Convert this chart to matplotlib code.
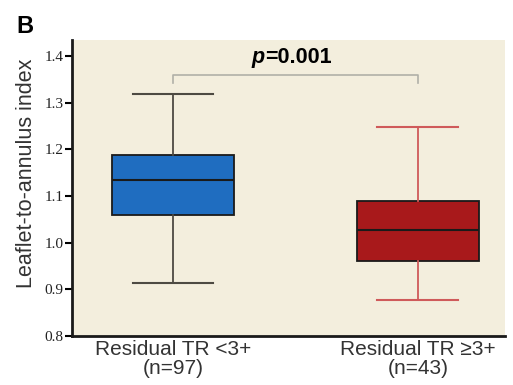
import matplotlib
matplotlib.use("Agg")
import matplotlib.pyplot as plt

categories = ["Residual TR <3+\n(n=97)", "Residual TR \u22653+\n(n=43)"]
whislo = [0.914, 0.877]
q1 = [1.060, 0.961]
med = [1.135, 1.028]
q3 = [1.187, 1.090]
whishi = [1.318, 1.247]
box_colors = ["#1f6dc0", "#a8191b"]
whisker_colors = ["#4d4a42", "#cf5a5a"]
yticks = [0.8, 0.9, 1.0, 1.1, 1.2, 1.3, 1.4]
p_text = "p"
p_value = "=0.001"

fig = plt.figure(figsize=(5.13, 3.85), dpi=100)
ax = fig.add_axes([0.1404, 0.127, 0.8436, 0.769])
ax.set_facecolor("#f3eedd")

stats = []
for i in range(len(categories)):
    stats.append(dict(whislo=whislo[i], q1=q1[i], med=med[i], q3=q3[i],
                      whishi=whishi[i], fliers=[], label=categories[i]))

positions = [1, 2]
bp = ax.bxp(stats, positions=positions, widths=0.5, patch_artist=True,
            showfliers=False)
for i, box in enumerate(bp["boxes"]):
    box.set_facecolor(box_colors[i])
    box.set_edgecolor("#1a1a1a")
    box.set_linewidth(1.3)
for i, m in enumerate(bp["medians"]):
    m.set_color("#1a1a1a")
    m.set_linewidth(1.5)
for i in range(len(categories)):
    for w in bp["whiskers"][2 * i:2 * i + 2]:
        w.set_color(whisker_colors[i])
        w.set_linewidth(1.3)
    for c in bp["caps"][2 * i:2 * i + 2]:
        c.set_color(whisker_colors[i])
        c.set_linewidth(1.5)
        xd = c.get_xdata()
        cx = (xd[0] + xd[1]) / 2
        c.set_xdata([cx - 0.165, cx + 0.165])

ax.set_xlim(0.588, 2.355)
ax.set_ylim(0.8, 1.434)
ax.set_yticks(yticks)
ax.set_yticklabels([f"{v:.1f}" for v in yticks], family="Liberation Serif",
                   fontsize=11, color="#222222")
ax.tick_params(axis="y", direction="out", length=5, width=1.5, pad=1)
ax.tick_params(axis="x", length=0, pad=3, labelsize=15, labelcolor="#333333")
for lab in ax.get_xticklabels():
    lab.set_family("Liberation Sans")
    lab.set_linespacing(0.95)

for s in ["top", "right"]:
    ax.spines[s].set_visible(False)
for s in ["left", "bottom"]:
    ax.spines[s].set_linewidth(2.0)
    ax.spines[s].set_color("#1a1a1a")

ax.set_ylabel("Leaflet-to-annulus index", fontsize=15.5, family="Liberation Sans",
              color="#333333")
ax.yaxis.set_label_coords(-0.08, 0.55)

# significance bracket
yb = 1.359
yd = 1.342
ax.plot([positions[0], positions[0], positions[1], positions[1]],
        [yd, yb, yb, yd], color="#b0b0a8", lw=1.2)
ax.annotate(p_text, xy=(1.5, 1.397), xycoords="data", ha="right", va="center",
            fontsize=15.5, fontweight="bold", fontstyle="italic",
            family="Liberation Sans", xytext=(-22, 0), textcoords="offset points")
ax.annotate(p_value, xy=(1.5, 1.397), xycoords="data", ha="left", va="center",
            fontsize=15.5, fontweight="bold", family="Liberation Sans",
            xytext=(-22, 0), textcoords="offset points")

fig.text(0.049, 0.93, "B", fontsize=17, fontweight="bold", family="Liberation Sans",
         va="center", ha="center")

fig.savefig("out.png", dpi=100)
